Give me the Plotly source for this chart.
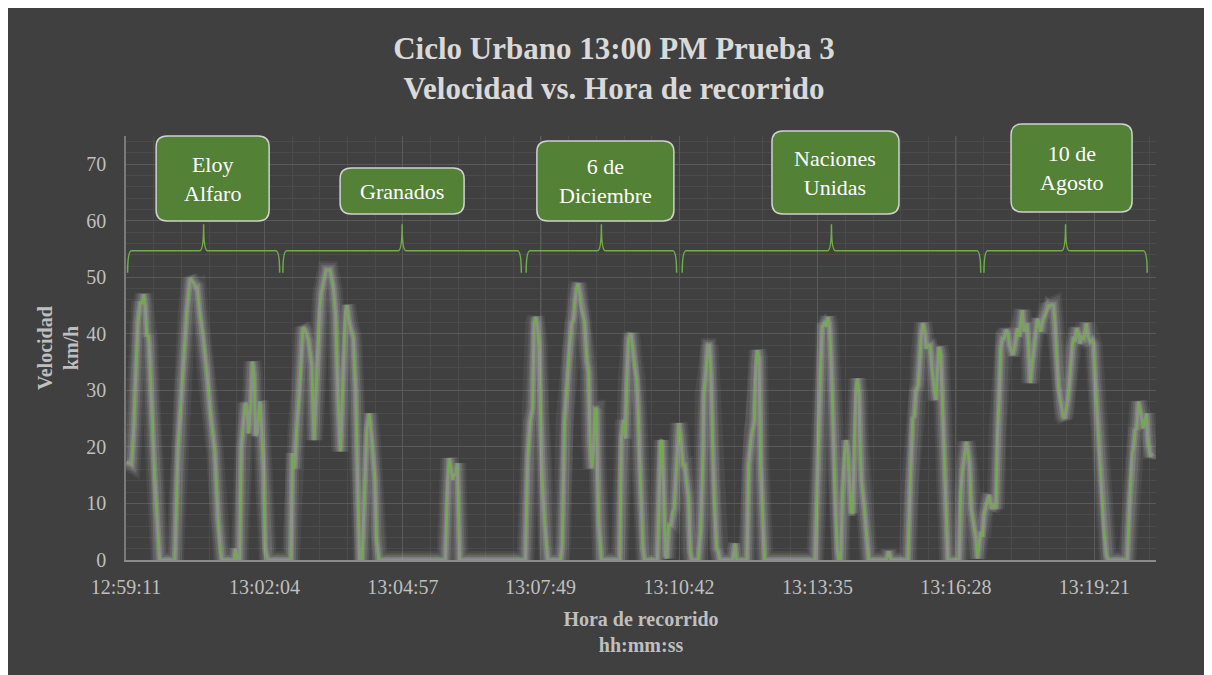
import plotly.graph_objects as go

# Ciclo urbano 13:00 - prueba 3
hora_inicio = "12:59:11"
etiquetas_x = ["12:59:11", "13:02:04", "13:04:57", "13:07:49",
               "13:10:42", "13:13:35", "13:16:28", "13:19:21"]

# segundos desde 12:59:11
t_seg = [
    1, 7, 10, 11, 15, 18, 20, 22, 24, 26, 28, 29, 32, 36, 42, 61, 65, 70, 74, 76,
    80, 82, 85, 87, 89, 92, 96, 101, 105, 111, 115, 118, 120, 135, 137, 139, 142, 144, 149, 151,
    153, 156, 158, 160, 162, 164, 167, 168, 172, 174, 177, 206, 208, 211, 213, 217, 221, 224, 228, 232,
    235, 238, 242, 244, 250, 255, 259, 262, 265, 268, 271, 274, 276, 279, 284, 287, 290, 292, 295, 299,
    301, 304, 307, 311, 313, 316, 399, 402, 404, 406, 408, 410, 412, 414, 415, 417, 499, 502, 505, 508,
    510, 512, 514, 516, 518, 520, 523, 525, 527, 543, 545, 548, 552, 554, 557, 559, 561, 563, 565, 567,
    569, 573, 576, 578, 580, 582, 584, 586, 588, 589, 591, 594, 617, 619, 622, 624, 626, 628, 631, 633,
    635, 636, 638, 640, 642, 646, 648, 664, 666, 668, 670, 672, 674, 676, 678, 681, 683, 685, 687, 689,
    691, 693, 696, 698, 700, 703, 705, 707, 715, 718, 721, 722, 725, 727, 729, 731, 733, 735, 738, 740,
    742, 758, 760, 761, 763, 776, 778, 781, 783, 785, 787, 789, 791, 793, 796, 798, 861, 863, 866, 868,
    870, 873, 875, 877, 879, 881, 883, 886, 889, 891, 893, 895, 898, 900, 902, 904, 906, 908, 910, 912,
    914, 916, 917, 919, 923, 926, 928, 950, 953, 956, 977, 980, 983, 985, 987, 990, 992, 994, 996, 998,
    1000, 1002, 1005, 1007, 1010, 1012, 1014, 1016, 1018, 1020, 1022, 1025, 1027, 1041, 1043, 1045, 1047, 1050, 1052, 1054,
    1056, 1059, 1062, 1064, 1066, 1068, 1070, 1072, 1075, 1077, 1079, 1081, 1084, 1087, 1089, 1091, 1093, 1095, 1097, 1100,
    1102, 1104, 1106, 1108, 1110, 1112, 1114, 1116, 1118, 1120, 1122, 1124, 1126, 1128, 1130, 1132, 1135, 1137, 1139, 1141,
    1143, 1145, 1147, 1150, 1152, 1154, 1156, 1159, 1161, 1163, 1165, 1167, 1169, 1171, 1173, 1175, 1177, 1180, 1182, 1184,
    1186, 1188, 1190, 1192, 1194, 1197, 1198, 1200, 1202, 1205, 1207, 1209, 1211, 1214, 1217, 1220, 1222, 1225, 1227, 1251,
    1254, 1257, 1259, 1261, 1263, 1265, 1267, 1269, 1271, 1273, 1275, 1277, 1280, 1282,
]

# km/h
velocidad = [
    17.4, 16.9, 23.9, 28.6, 42.2, 45.7, 45.3, 47.0, 45.0, 39.5, 39.8, 38.3, 27.4, 14.4, 0, 0, 19.8, 31.5, 39.1, 43.9,
    49.8, 49.5, 48.9, 48.2, 48.3, 43.9, 40.0, 33.3, 26.8, 19.2, 7.4, 1.5, 0, 0, 2.0, 0, 0, 19.8, 27.7, 27.4,
    22.4, 27.4, 35.1, 32.7, 22.1, 22.4, 28.0, 27.4, 15.6, 2.0, 0, 0, 18.9, 16.2, 22.7, 30.4, 41.1, 40.7, 38.9, 34.5,
    21.2, 31.5, 44.5, 47.2, 51.3, 51.3, 48.3, 43.3, 28.6, 19.2, 31.5, 43.6, 45.1, 41.9, 39.2, 29.8, 10.9, 0, 0, 15.6,
    23.3, 25.9, 21.5, 14.2, 3.8, 0, 0, 14.4, 18.0, 16.2, 14.2, 15.3, 15.0, 17.1, 10.9, 0, 0, 18.0, 24.5, 26.8,
    41.9, 43.0, 41.6, 38.0, 25.6, 14.4, 6.8, 2.7, 0, 0, 2.7, 24.5, 33.9, 37.4, 41.9, 42.5, 45.7, 48.1, 48.9, 47.2,
    44.5, 42.2, 35.1, 33.3, 20.9, 16.2, 19.2, 26.8, 26.8, 16.8, 6.2, 0, 0, 21.5, 24.8, 21.5, 32.7, 39.2, 40.1, 37.4,
    34.0, 33.9, 32.1, 26.2, 16.8, 2.0, 0, 0, 9.7, 20.9, 21.2, 9.7, 0.9, 0.3, 6.2, 6.2, 8.5, 9.1, 14.4, 20.3,
    24.2, 21.5, 16.8, 16.8, 13.9, 10.9, 1.5, 0, 0, 5.0, 19.2, 29.2, 33.9, 38.0, 38.0, 32.7, 20.9, 10.9, 2.0, 1.5,
    0, 0, 2.0, 2.9, 0, 0, 16.8, 21.5, 23.0, 24.5, 34.5, 37.1, 35.7, 16.8, 6.2, 0, 0, 10.9, 25.6, 34.5,
    41.3, 41.9, 41.3, 43.0, 41.3, 35.7, 26.8, 10.9, 1.5, 0, 0, 10.9, 19.2, 21.2, 19.2, 12.1, 8.3, 8.3, 19.2, 30.4,
    32.1, 29.2, 21.5, 13.9, 8.5, 3.2, 0, 0, 1.5, 0, 0, 13.9, 25.1, 25.4, 29.8, 31.0, 36.9, 40.4, 41.9, 40.4,
    37.4, 38.0, 38.0, 33.9, 30.4, 28.3, 33.9, 37.7, 36.3, 28.6, 19.8, 8.0, 0, 0, 12.1, 15.6, 18.0, 20.9, 19.2, 16.8,
    9.1, 6.8, 3.8, 0.3, 2.9, 5.0, 4.1, 8.0, 9.7, 10.9, 11.5, 9.1, 9.7, 9.1, 22.7, 28.6, 37.4, 39.2, 39.2, 40.7,
    40.1, 38.0, 37.1, 36.3, 37.4, 39.2, 41.0, 39.5, 41.9, 44.2, 40.4, 41.3, 41.9, 37.4, 31.3, 34.5, 38.6, 40.4, 42.7, 41.3,
    40.4, 42.2, 43.0, 43.9, 45.1, 44.8, 45.1, 45.1, 41.6, 35.7, 31.0, 28.6, 26.8, 25.4, 25.1, 26.8, 28.6, 33.3, 37.4, 39.5,
    38.6, 41.0, 40.1, 38.3, 39.5, 39.2, 40.1, 41.9, 39.5, 38.6, 38.9, 38.0, 32.1, 25.1, 16.8, 10.9, 5.0, 0.9, 0, 0,
    9.7, 18.9, 19.8, 23.0, 23.3, 28.0, 26.8, 25.1, 23.3, 24.5, 25.9, 20.9, 18.3, 18.9,
]

# tramos de la ruta (inicio, fin en segundos)
tramos = ["Eloy<br>Alfaro", "Granados", "6 de<br>Diciembre", "Naciones<br>Unidas", "10 de<br>Agosto"]
tramo_ini = [2, 196, 500, 695, 1072]
tramo_fin = [192, 494, 688, 1068, 1276]

# cajas de texto: desplazamiento x, ancho, borde superior, borde inferior (px desde el tope del grafico)
cajas = [(9, 113, 0, -85), (0, 124, -32, -78), (4, 137, -5, -85), (4, 127, 5, -78), (6, 121, 12, -76)]


def a_seg(hms):
    h, m, s = [int(p) for p in hms.split(":")]
    h0, m0, s0 = [int(p) for p in hora_inicio.split(":")]
    return (h - h0) * 3600 + (m - m0) * 60 + (s - s0)


FONDO = "#404040"
VERDE = "#70AD47"
VERDE_CAJA = "#538135"
SERIF = "Liberation Serif, Times New Roman, serif"

tick_vals = [a_seg(e) for e in etiquetas_x]
paso_menor = (tick_vals[-1] - tick_vals[0]) / (len(tick_vals) - 1) / 5

fig = go.Figure()

# halo gris difuso alrededor de la linea
for ancho, alfa in [(18, 0.07), (14, 0.1), (10, 0.14), (6, 0.2), (3, 0.2)]:
    fig.add_trace(go.Scatter(x=t_seg, y=velocidad, mode="lines",
                             line=dict(color=f"rgba(210,210,210,{alfa})", width=ancho),
                             hoverinfo="skip", showlegend=False))

fig.add_trace(go.Scatter(x=t_seg, y=velocidad, mode="lines", name="Velocidad",
                         line=dict(color=VERDE, width=1.3), showlegend=False))

shapes = []
annotations = []
c = 5
y0, y1, y2 = 50.8, 54.7, 59.4
for nombre, a, b, caja in zip(tramos, tramo_ini, tramo_fin, cajas):
    m = (a + b) / 2
    path = (f"M {a},{y0} Q {a},{y1} {a + c},{y1} L {m - c},{y1} Q {m},{y1} {m},{y2} "
            f"Q {m},{y1} {m + c},{y1} L {b - c},{y1} Q {b},{y1} {b},{y0}")
    shapes.append(dict(type="path", path=path, xref="x", yref="y",
                       line=dict(color=VERDE, width=1.5)))

    dx, w, top, bot = caja
    r = 11
    L, R = dx - w / 2, dx + w / 2
    caja_path = (f"M {L + r},{top} L {R - r},{top} Q {R},{top} {R},{top - r} L {R},{bot + r} "
                 f"Q {R},{bot} {R - r},{bot} L {L + r},{bot} Q {L},{bot} {L},{bot + r} "
                 f"L {L},{top - r} Q {L},{top} {L + r},{top} Z")
    shapes.append(dict(type="path", path=caja_path, xref="x", yref="paper",
                       xsizemode="pixel", ysizemode="pixel", xanchor=m, yanchor=1,
                       fillcolor=VERDE_CAJA, line=dict(color="#d0d0d0", width=1.5)))
    annotations.append(dict(text=nombre, xref="x", yref="paper", x=m, y=1,
                            xshift=dx, yshift=(top + bot) / 2, yanchor="middle",
                            showarrow=False,
                            font=dict(family=SERIF, size=22, color="white")))

fig.update_layout(
    width=1212, height=675,
    margin=dict(l=118, r=64, t=128, b=123),
    paper_bgcolor=FONDO,
    plot_bgcolor=FONDO,
    title=dict(text="Ciclo Urbano 13:00 PM Prueba 3<br>Velocidad vs. Hora de recorrido",
               x=0.5, xanchor="center", y=0.925, yanchor="middle",
               font=dict(family=SERIF, size=31, color="#d9d9d9", weight="bold")),
    shapes=shapes,
    annotations=annotations,
    hovermode="closest",
)

fig.update_xaxes(
    range=[0, 1287],
    tickmode="array", tickvals=tick_vals, ticktext=etiquetas_x,
    ticks="", ticklabelstandoff=8,
    tickfont=dict(family=SERIF, size=20, color="#bfbfbf"),
    showgrid=True, gridcolor="#5a5a5a", gridwidth=1,
    minor=dict(tickmode="linear", tick0=0, dtick=paso_menor, showgrid=True,
               gridcolor="#4b4b4b", gridwidth=1),
    showline=True, linecolor="#8c8c8c", linewidth=1.5,
    zeroline=False,
    title=dict(text="Hora de recorrido<br>hh:mm:ss", standoff=15,
               font=dict(family=SERIF, size=20, color="#bfbfbf", weight="bold")),
)

fig.update_yaxes(
    range=[0, 75],
    tickmode="linear", tick0=0, dtick=10,
    ticks="", ticklabelstandoff=14,
    tickfont=dict(family=SERIF, size=20, color="#bfbfbf"),
    showgrid=True, gridcolor="#5a5a5a", gridwidth=1,
    minor=dict(dtick=2, showgrid=True, gridcolor="#4b4b4b", gridwidth=1),
    showline=True, linecolor="#7a7a7a", linewidth=1.5,
    zeroline=False,
    title=dict(text="Velocidad<br>km/h", standoff=2,
               font=dict(family=SERIF, size=20, color="#bfbfbf", weight="bold")),
)

fig.write_html("out.html")
